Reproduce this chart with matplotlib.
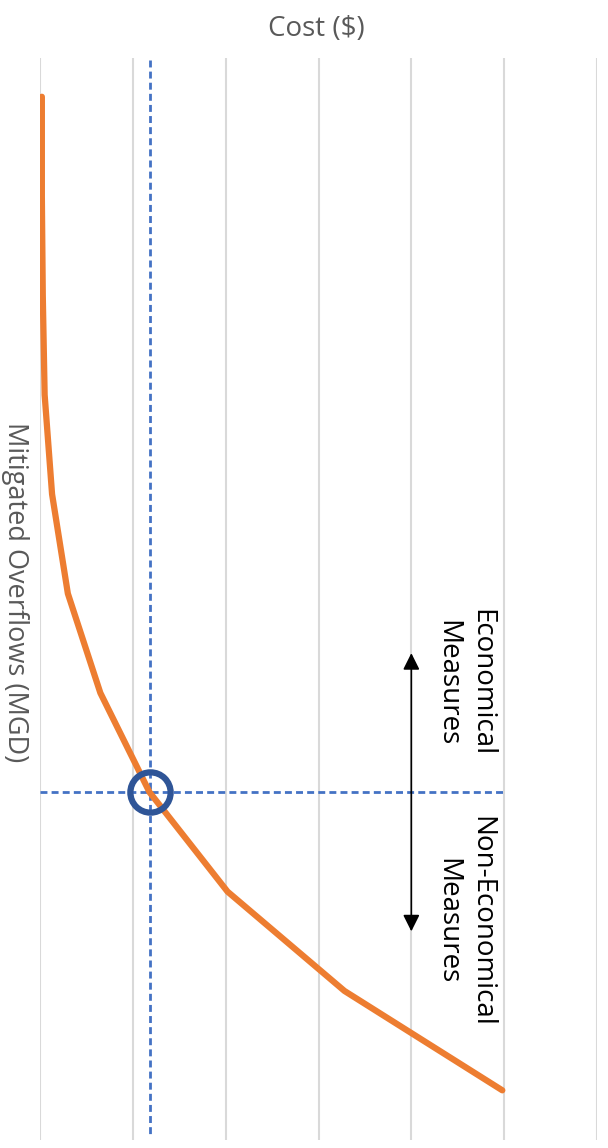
import numpy as np
import matplotlib.pyplot as plt

plt.rcParams['font.family'] = ['Open Sans', 'DejaVu Sans']

# cost curve, one point per overflow step (step 0 at top)
overflow_steps = [0, 1, 2, 3, 4, 5, 6, 7, 8, 9, 10]
cost = [0.02, 0.02, 0.03, 0.05, 0.13, 0.30, 0.65, 1.18, 2.02, 3.28, 4.98]
cost_ticks = [0, 1, 2, 3, 4, 5, 6]

optimum_step = 7
optimum_cost = 1.18
arrow_cost = 4.0
arrow_up_to = 5.6
arrow_down_to = 8.4

W, H = 608, 1148
fig = plt.figure(figsize=(W / 100, H / 100), dpi=100)
ax = fig.add_axes([40 / W, 1 - 1140 / H, (597 - 40) / W, (1140 - 58) / H])
ax.set_xlim(0, 6)
ax.set_ylim(10.5, -0.39)
ax.axis('off')

for c in cost_ticks:
    ax.axvline(c, color='#d9d9d9', lw=1.5, zorder=0)

# break-even guides
ax.plot([optimum_cost, optimum_cost], [-0.37, 10.45], color='#4472c4', lw=2,
        ls=(0, (2.5, 1.5)), zorder=1)
ax.plot([0, 5], [optimum_step, optimum_step], color='#4472c4', lw=2,
        ls=(0, (2.5, 1.5)), zorder=1)

ax.plot(cost, overflow_steps, color='#ed7d31', lw=4.5, solid_capstyle='round',
        zorder=2)

ax.plot([optimum_cost], [optimum_step], marker='o', ms=29, mfc='none',
        mec='#2f5597', mew=4.5, zorder=3)

# direction arrows
for tip in (arrow_up_to, arrow_down_to):
    ax.annotate('', xy=(arrow_cost, tip), xytext=(arrow_cost, optimum_step),
                arrowprops=dict(arrowstyle='-|>,head_length=1.0,head_width=0.5',
                                color='black', lw=1.2, shrinkA=0, shrinkB=0))

ax.text(4.57, 5.9, 'Economical\nMeasures', rotation=270, fontsize=20,
        ha='center', va='center', multialignment='center', linespacing=1.25)
ax.text(4.57, 8.3, 'Non-Economical\nMeasures', rotation=270, fontsize=20,
        ha='center', va='center', multialignment='center', linespacing=1.25)

fig.text(316 / W, 1 - 29 / H, 'Cost ($)', fontsize=20, color='#595959',
         ha='center', va='center')
fig.text(15 / W, 1 - 592 / H, 'Mitigated Overflows (MGD)', fontsize=19.5,
         color='#595959', rotation=270, ha='center', va='center')

fig.savefig('out.png', dpi=100)
